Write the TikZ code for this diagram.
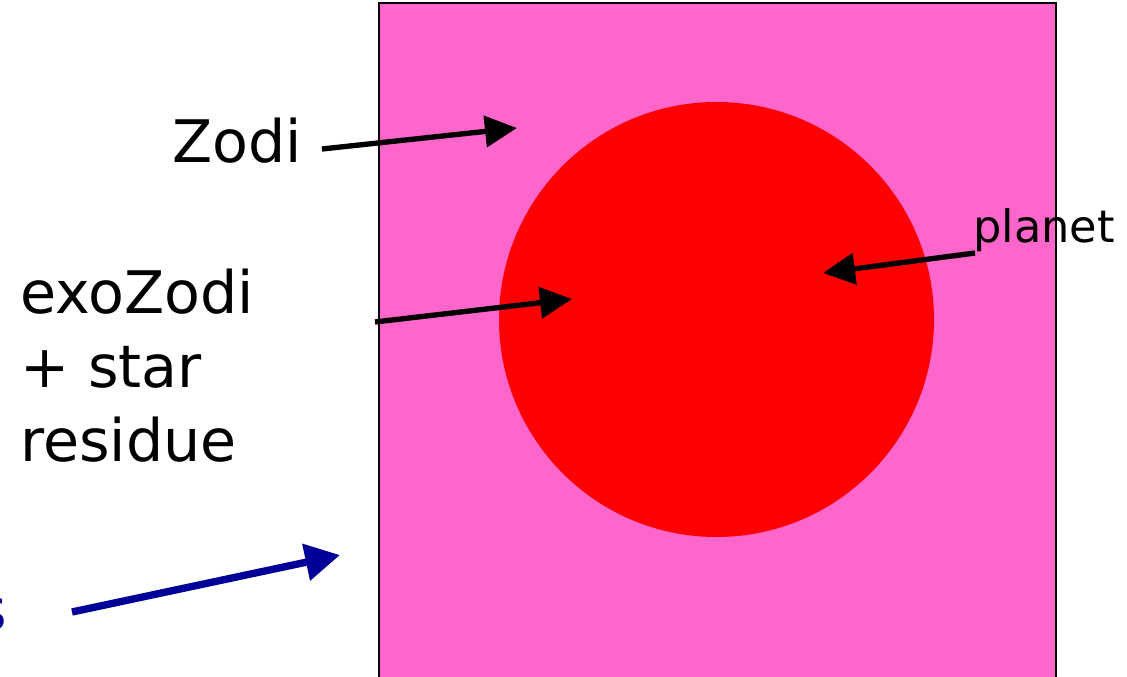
\documentclass[tikz,border=0pt]{standalone}
\usepackage{fontspec}
\setmainfont{DejaVu Sans}
\usetikzlibrary{arrows.meta}
\definecolor{zodipink}{RGB}{255,102,204}
\definecolor{arrowblue}{RGB}{0,0,153}
\begin{document}
\begin{tikzpicture}[
    x=0.75pt, y=-0.75pt,
    label/.style={inner sep=0pt, font=\fontsize{44}{55.5}\selectfont},
    smalllabel/.style={inner sep=0pt, font=\fontsize{33.5}{40}\selectfont},
    pointer/.style={-{Triangle[length=24pt,width=23pt]}, line width=4pt},
    bigpointer/.style={-{Triangle[length=26pt,width=27pt]}, line width=5.5pt, draw=arrowblue}
]
\useasboundingbox (0,0) rectangle (1127,677);

\filldraw[fill=zodipink, draw=black, line width=1.2pt] (379,3) rectangle (1056,700);
\fill[red] (716.5,319.5) circle[radius=217.5];

\node[label, anchor=base west] (zodiTxt) at (172,163) {Zodi};
\node[label, anchor=base west, align=left] (exoTxt) at (20,461) {exoZodi\\+ star\\residue};
\node[smalllabel, anchor=base west] (planetTxt) at (973,243) {planet};
\node[label, anchor=base east, text=arrowblue] (cutTxt) at (7,630) {s};

\coordinate (zodiTail) at (322,149);
\coordinate (zodiHit) at (517,128);
\coordinate (exoTail) at (375,322);
\coordinate (exoHit) at (572,299);
\coordinate (planetTail) at (975,253);
\coordinate (planetHit) at (823,273);
\coordinate (blueTail) at (72,612);
\coordinate (blueHit) at (340,555);

\draw[pointer] (zodiTail) -- (zodiHit);
\draw[pointer] (exoTail) -- (exoHit);
\draw[pointer] (planetTail) -- (planetHit);
\draw[bigpointer] (blueTail) -- (blueHit);
\end{tikzpicture}
\end{document}
